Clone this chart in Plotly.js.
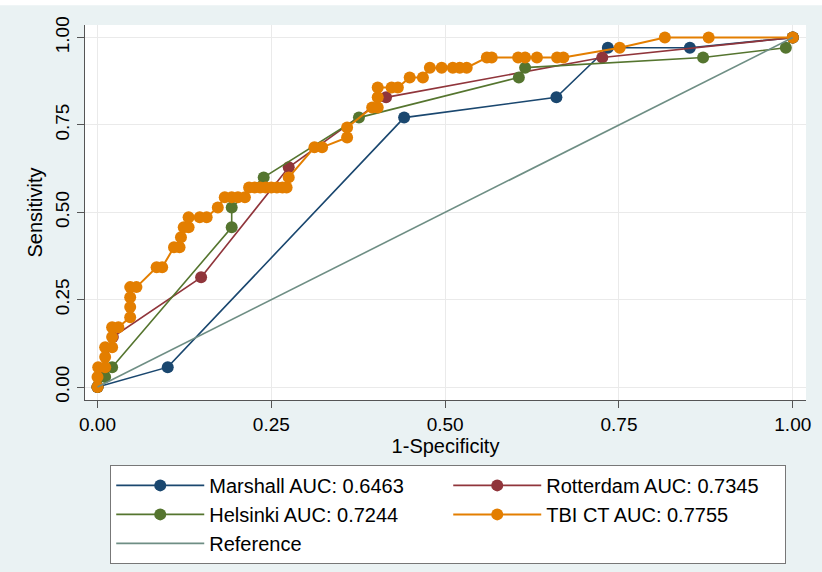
<!DOCTYPE html>
<html>
<head>
<meta charset="utf-8">
<script src="https://cdn.plot.ly/plotly-3.0.1.min.js"></script>
<style>html,body{margin:0;padding:0;background:#eaf2f3;}</style>
</head>
<body>
<div id="chart" style="width:822px;height:572px;"></div>
<script>
// Series data (x = 1-Specificity, y = Sensitivity)
const marshallX = [0, 0.101, 0.441, 0.660, 0.734, 0.852, 1];
const marshallY = [0, 0.057, 0.771, 0.829, 0.971, 0.971, 1];

const rotterdamX = [0, 0.022, 0.149, 0.275, 0.415, 0.726, 1];
const rotterdamY = [0, 0.143, 0.314, 0.629, 0.829, 0.943, 1];

const helsinkiX = [0, 0.011, 0.021, 0.193, 0.193, 0.239, 0.376, 0.606, 0.615, 0.871, 0.990, 1];
const helsinkiY = [0, 0.029, 0.057, 0.457, 0.514, 0.600, 0.771, 0.886, 0.914, 0.943, 0.971, 1];

const tbiX = [0, 0, 0.001, 0.011, 0.011, 0.011, 0.021, 0.021, 0.021, 0.030,
  0.047, 0.047, 0.047, 0.047, 0.056, 0.085, 0.093, 0.110, 0.118, 0.120,
  0.124, 0.131, 0.131, 0.147, 0.157, 0.173, 0.183, 0.193, 0.202, 0.212,
  0.218, 0.226, 0.234, 0.242, 0.250, 0.258, 0.266, 0.272, 0.275, 0.312,
  0.323, 0.359, 0.359, 0.395, 0.403, 0.403, 0.403, 0.423, 0.432, 0.449,
  0.468, 0.478, 0.495, 0.511, 0.521, 0.531, 0.560, 0.567, 0.605, 0.615,
  0.632, 0.661, 0.670, 0.751, 0.816, 0.879, 1];
const tbiY = [0, 0.029, 0.057, 0.057, 0.086, 0.114, 0.114, 0.143, 0.171, 0.171,
  0.200, 0.229, 0.257, 0.286, 0.286, 0.343, 0.343, 0.400, 0.400, 0.429,
  0.457, 0.457, 0.486, 0.486, 0.486, 0.514, 0.543, 0.543, 0.543, 0.543,
  0.571, 0.571, 0.571, 0.571, 0.571, 0.571, 0.571, 0.571, 0.600, 0.686,
  0.686, 0.714, 0.743, 0.800, 0.800, 0.829, 0.857, 0.857, 0.857, 0.886,
  0.886, 0.914, 0.914, 0.914, 0.914, 0.914, 0.943, 0.943, 0.943, 0.943,
  0.943, 0.943, 0.943, 0.971, 1, 1, 1];

const refX = [0, 1];
const refY = [0, 1];

const seriesNames = ["Marshall AUC: 0.6463", "Rotterdam AUC: 0.7345",
  "Helsinki AUC: 0.7244", "TBI CT AUC: 0.7755", "Reference"];
const tickVals = [0, 0.25, 0.5, 0.75, 1];
const tickLabels = ["0.00", "0.25", "0.50", "0.75", "1.00"];

const colors = ["#1a476f", "#90353b", "#55752f", "#e37e00", "#6e8e84"];

function curve(x, y, i, lw) {
  return {
    x: x, y: y, name: seriesNames[i], type: "scatter", mode: "lines+markers",
    line: {color: colors[i], width: lw},
    marker: {color: colors[i], size: 12},
    cliponaxis: false
  };
}

const traces = [
  curve(marshallX, marshallY, 0, 1.6),
  curve(rotterdamX, rotterdamY, 1, 1.6),
  curve(helsinkiX, helsinkiY, 2, 1.6),
  curve(tbiX, tbiY, 3, 2),
  {x: refX, y: refY, name: seriesNames[4], type: "scatter", mode: "lines",
   line: {color: colors[4], width: 1.6}}
];

const font = "Liberation Sans, Arial, Helvetica, sans-serif";

const layout = {
  width: 822, height: 572,
  paper_bgcolor: "#eaf2f3",
  plot_bgcolor: "#ffffff",
  margin: {l: 85, r: 16, t: 25, b: 172, autoexpand: false},
  font: {family: font, color: "#000"},
  showlegend: true,
  shapes: [{type: "rect", xref: "paper", yref: "paper", layer: "below",
    x0: -0.12, x1: 1.03, y0: 1.053, y1: 1.07,
    fillcolor: "#ffffff", line: {width: 0}}],
  xaxis: {
    range: [-0.018, 1.019],
    tickvals: tickVals, ticktext: tickLabels,
    ticks: "outside", ticklen: 7, tickcolor: "#555", tickwidth: 1,
    showline: true, linecolor: "#555", linewidth: 1,
    showgrid: true, gridcolor: "#eaeaea", gridwidth: 1,
    zeroline: false,
    tickfont: {size: 19, family: font},
    title: {text: "1-Specificity", font: {size: 20, family: font}, standoff: 2}
  },
  yaxis: {
    range: [-0.037, 1.036],
    tickvals: tickVals, ticktext: tickLabels, tickangle: -90,
    ticks: "outside", ticklen: 7, tickcolor: "#555", tickwidth: 1,
    showline: true, linecolor: "#555", linewidth: 1,
    showgrid: true, gridcolor: "#eaeaea", gridwidth: 1,
    zeroline: false,
    tickfont: {size: 19, family: font},
    title: {text: "Sensitivity", font: {size: 20, family: font}, standoff: 4}
  },
  legend: {
    orientation: "h",
    x: 0.035, xanchor: "left",
    y: -0.173, yanchor: "top",
    bgcolor: "#ffffff", bordercolor: "#777", borderwidth: 1,
    font: {size: 20, family: font},
    entrywidth: 234, entrywidthmode: "pixels",
    itemwidth: 88,
    traceorder: "normal"
  }
};

Plotly.newPlot("chart", traces, layout, {displayModeBar: false, staticPlot: true});
</script>
</body>
</html>
